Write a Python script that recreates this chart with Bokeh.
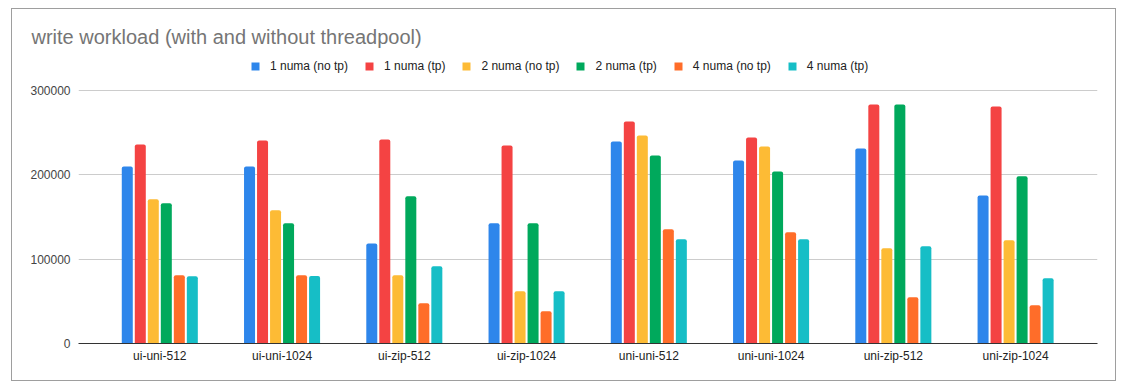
from bokeh.plotting import figure
from bokeh.layouts import column
from bokeh.models import Range1d, Legend, LegendItem, FixedTicker, ColumnDataSource
from bokeh.embed import file_html
from bokeh.resources import INLINE

categories = ["ui-uni-512", "ui-uni-1024", "ui-zip-512", "ui-zip-1024",
              "uni-uni-512", "uni-uni-1024", "uni-zip-512", "uni-zip-1024"]
series_names = ["1 numa (no tp)", "1 numa (tp)", "2 numa (no tp)",
                "2 numa (tp)", "4 numa (no tp)", "4 numa (tp)"]
numa1_no_tp = [210000, 210000, 118500, 142500, 239600, 217100, 231300, 175600]
numa1_tp = [236000, 240800, 242000, 234900, 263300, 244300, 283400, 281000]
numa2_no_tp = [171000, 157900, 80900, 62000, 246700, 233700, 112900, 122300]
numa2_tp = [166200, 142500, 174500, 142500, 223000, 204100, 283400, 198200]
numa4_no_tp = [80900, 81000, 47700, 38300, 135400, 131800, 54800, 45400]
numa4_tp = [79700, 80000, 91500, 62000, 123500, 123500, 115200, 77300]
y_ticks = [0, 100000, 200000, 300000]

all_series = [numa1_no_tp, numa1_tp, numa2_no_tp, numa2_tp, numa4_no_tp, numa4_tp]
colors = ["#2E86EB", "#F44343", "#FDBB35", "#00A95C", "#FF6D29", "#16BEC6"]

# frame spans 291 px; 300000 sits 253 px above the baseline, leaving room for the legend
p = figure(width=1103, height=371, output_backend="svg", toolbar_location=None,
           x_range=Range1d(-0.665, 7.67), y_range=Range1d(0, 300000 * 291 / 253),
           title="write workload (with and without threadpool)",
           min_border_left=66, min_border_right=18, min_border_bottom=37, min_border_top=43)
p.outline_line_color = None
p.title.text_font = "Liberation Sans"
p.title.text_font_size = "20px"
p.title.text_color = "#757575"
p.title.text_font_style = "normal"
p.title.offset = -47
p.title.standoff = 9

stride = 0.1064
bw = 0.09
items = []
x_idx = list(range(len(categories)))
for k, (name, vals, col) in enumerate(zip(series_names, all_series, colors)):
    off = (k - 2.5) * stride
    src = ColumnDataSource(dict(x=[i + off for i in x_idx], top=vals))
    r = p.vbar(x="x", top="top", width=bw, source=src, fill_color=col, line_color=None,
               border_radius=(2, 2, 0, 0))
    items.append(LegendItem(label=name, renderers=[r]))

legend = Legend(items=items, orientation="horizontal", location=(172, 270),
                label_text_font="Liberation Sans", label_text_font_size="12px",
                label_text_color="#222222", glyph_width=10, glyph_height=10,
                label_standoff=10, spacing=16, padding=4, margin=0,
                border_line_color=None, background_fill_alpha=0)
p.add_layout(legend, "center")

p.xaxis.ticker = FixedTicker(ticks=x_idx)
p.xaxis.major_label_overrides = {i: c for i, c in enumerate(categories)}
p.xaxis.axis_line_color = "#333333"
p.xaxis.major_tick_line_color = None
p.xaxis.minor_tick_line_color = None
p.xaxis.major_label_text_font = "Liberation Sans"
p.xaxis.major_label_text_font_size = "12px"
p.xaxis.major_label_text_color = "#222222"
p.xaxis.major_label_standoff = -1
p.xgrid.grid_line_color = None

p.yaxis.ticker = FixedTicker(ticks=y_ticks)
p.yaxis.formatter.use_scientific = False
p.yaxis.axis_line_color = None
p.yaxis.major_tick_line_color = None
p.yaxis.minor_tick_line_color = None
p.yaxis.major_label_text_font = "Liberation Sans"
p.yaxis.major_label_text_font_size = "12px"
p.yaxis.major_label_text_color = "#444444"
p.yaxis.major_label_standoff = 2
p.ygrid.grid_line_color = "#cccccc"
p.ygrid.ticker = FixedTicker(ticks=y_ticks[1:])

layout = column(p, width=1105, height=373,
                styles={"border": "1px solid #9e9e9e", "margin-left": "11px", "margin-top": "8px"})

open("out.html", "w").write(file_html(layout, INLINE))
